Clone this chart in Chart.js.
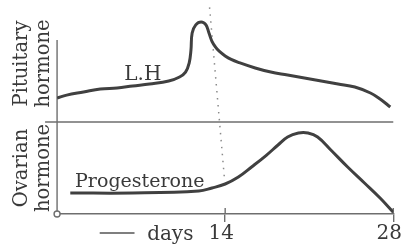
<!DOCTYPE html>
<html><head><meta charset="utf-8">
<script src="https://cdn.jsdelivr.net/npm/chart.js@4/dist/chart.umd.min.js"></script>
<style>html,body{margin:0;padding:0;background:#fff;}canvas{display:block;}</style>
</head><body>
<canvas id="c" width="406" height="247"></canvas>
<script>
// Day ticks on the x axis
const dayTicks = [14, 28];
// Pituitary hormone (LH), arbitrary level 0-100
const lhDays   = [0, 0.8, 2.2, 3.6, 5.0, 6.3, 7.7, 9.3, 10.2, 10.7, 11.0, 11.15, 11.25, 11.55, 12.0, 12.4, 12.65, 12.9, 13.2, 13.5, 14.0, 14.5, 15.1, 16.5, 17.8, 19.2, 20.6, 22.0, 23.4, 24.8, 26.1, 26.9, 27.75];
const lhValues = [20.5, 23, 25.6, 28.2, 29.1, 30.8, 32.5, 35, 38.5, 42.7, 50.4, 61.5, 76, 83, 85.5, 83, 76, 69, 64, 60.5, 56.5, 53.5, 51, 46.2, 42.7, 40.2, 37.6, 35, 32.5, 29.9, 24.8, 19.7, 12.8];
// Ovarian hormone (Progesterone), arbitrary level 0-100
const progDays   = [1.1, 6.3, 11.8, 12.9, 14.0, 15.1, 16.2, 17.4, 18.4, 19.2, 20.1, 20.9, 21.7, 22.8, 24.2, 25.6, 26.9, 28];
const progValues = [22.8, 22.8, 25, 28.3, 32.6, 40.2, 51.1, 63.5, 75, 83.7, 88, 88, 83.7, 69.6, 51.1, 33.7, 17.4, 2];
// Labels
const panelTitles = [['Pituitary', 'hormone'], ['Ovarian', 'hormone']];
const curveNames = ['L.H', 'Progesterone'];
const axisName = 'days';

const SERIF = 'DejaVu Serif';
const INK = '#3a3a3a';
const AXIS = '#6e6e6e';

const decor = {
  id: 'decor',
  beforeDatasetsDraw(chart) {
    const {ctx, scales: {x, yTop, yBot}} = chart;
    const ln = (x1, y1, x2, y2) => { ctx.beginPath(); ctx.moveTo(x1, y1); ctx.lineTo(x2, y2); ctx.stroke(); };
    ctx.save();
    ctx.strokeStyle = AXIS; ctx.lineWidth = 1.4;
    // top panel baseline
    ln(x.getPixelForValue(-1), yTop.getPixelForValue(0), x.getPixelForValue(28), yTop.getPixelForValue(0));
    // vertical axis
    ln(x.getPixelForValue(0), yTop.getPixelForValue(70), x.getPixelForValue(0), yBot.getPixelForValue(0));
    // inner tick parts
    dayTicks.forEach(v => ln(x.getPixelForValue(v), yBot.getPixelForValue(0) - 6, x.getPixelForValue(v), yBot.getPixelForValue(0)));
    // origin circle
    ctx.beginPath(); ctx.fillStyle = '#fff';
    ctx.arc(x.getPixelForValue(0), yBot.getPixelForValue(0), 3, 0, Math.PI * 2); ctx.fill(); ctx.stroke();
    // dotted day-14 marker
    ctx.strokeStyle = '#8a8a8a'; ctx.lineWidth = 1.5; ctx.setLineDash([1.5, 5.5]);
    ln(x.getPixelForValue(12.7), yTop.getPixelForValue(98), x.getPixelForValue(13.95), yBot.getPixelForValue(37));
    ctx.setLineDash([]);
    // dash before "days"
    ctx.strokeStyle = '#555'; ctx.lineWidth = 1.5;
    const yb = yBot.getPixelForValue(0);
    ln(x.getPixelForValue(3.55), yb + 19, x.getPixelForValue(6.45), yb + 19);
    ctx.restore();
  },
  afterDatasetsDraw(chart) {
    const {ctx, scales: {x, yTop, yBot}} = chart;
    ctx.save();
    ctx.fillStyle = INK; ctx.textBaseline = 'alphabetic'; ctx.textAlign = 'left';
    ctx.font = '20px "' + SERIF + '"';
    ctx.fillText(curveNames[0], x.getPixelForValue(5.6), yTop.getPixelForValue(36));
    ctx.font = '19px "' + SERIF + '"';
    ctx.fillText(curveNames[1], x.getPixelForValue(1.5), yBot.getPixelForValue(29.5));
    ctx.font = '20px "' + SERIF + '"';
    ctx.fillText(axisName, x.getPixelForValue(7.5), yBot.getPixelForValue(0) + 26);
    ctx.restore();
  }
};

const titleOpts = (text) => ({
  display: true, text, color: INK,
  font: {family: SERIF, size: 19.5, lineHeight: 1.13},
  padding: {top: 11, bottom: 2}
});

new Chart(document.getElementById('c'), {
  type: 'line',
  data: {
    datasets: [
      {label: 'LH', data: lhDays.map((d, i) => ({x: d, y: lhValues[i]})), yAxisID: 'yTop'},
      {label: 'Progesterone', data: progDays.map((d, i) => ({x: d, y: progValues[i]})), yAxisID: 'yBot'}
    ]
  },
  options: {
    responsive: false, animation: false,
    layout: {padding: {left: 0, right: 10, top: 5, bottom: 1}},
    elements: {
      line: {borderColor: '#404040', borderWidth: 3, tension: 0.4, fill: false, capBezierPoints: true},
      point: {radius: 0}
    },
    plugins: {legend: {display: false}, tooltip: {enabled: false}},
    scales: {
      x: {
        type: 'linear', min: 0, max: 28, position: 'bottom',
        afterBuildTicks: s => { s.ticks = dayTicks.map(v => ({value: v})); },
        ticks: {autoSkip: false, maxRotation: 0, padding: 0, labelOffset: -4, color: INK,
          font: {family: SERIF, size: 20}, callback: v => String(v)},
        grid: {drawOnChartArea: false, drawTicks: true, tickLength: 8, color: AXIS, lineWidth: 1.4},
        border: {display: true, color: AXIS, width: 1.4}
      },
      yBot: {
        type: 'linear', position: 'left', stack: 'h', stackWeight: 92, min: 0, max: 100,
        grid: {display: false, drawTicks: false}, border: {display: false}, ticks: {display: false},
        title: titleOpts(panelTitles[1])
      },
      yTop: {
        type: 'linear', position: 'left', stack: 'h', stackWeight: 117, min: 0, max: 100,
        grid: {display: false, drawTicks: false}, border: {display: false}, ticks: {display: false},
        title: titleOpts(panelTitles[0])
      }
    }
  },
  plugins: [decor]
});
</script>
</body></html>
